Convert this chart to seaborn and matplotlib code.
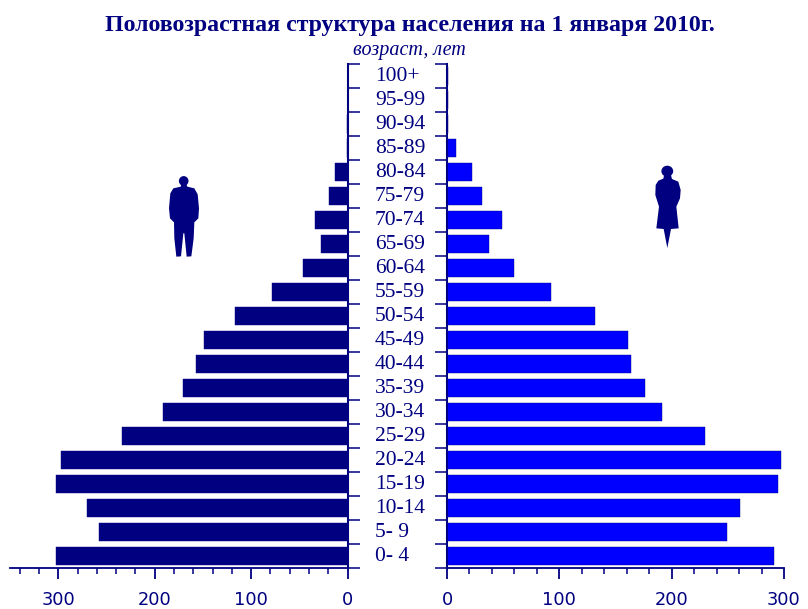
import matplotlib
matplotlib.use("Agg")
import matplotlib.pyplot as plt
from matplotlib.patches import Ellipse, Polygon
from matplotlib.ticker import MultipleLocator
from matplotlib.transforms import blended_transform_factory
import pandas as pd
import seaborn as sns

# Age groups, top of the pyramid first
ages = ["100+", "95-99", "90-94", "85-89", "80-84", "75-79", "70-74",
        "65-69", "60-64", "55-59", "50-54", "45-49", "40-44", "35-39",
        "30-34", "25-29", "20-24", "15-19", "10-14", "5- 9", "0- 4"]
men = [0, 0, 1, 0.5, 13, 19, 34, 28, 46, 78, 117, 149, 157, 171,
       191, 234, 297, 302, 270, 258, 302]
women = [1, 0.5, 0.5, 8, 22, 31, 49, 37, 60, 93, 132, 161, 164, 176,
         191, 230, 297, 295, 261, 249, 291]

NAVY = "#000080"
BLUE = "#0000ff"
W, H = 808, 609

df = pd.DataFrame({"age": ages, "men": men, "women": women})

sns.set_theme(style="white")
plt.rcParams["font.family"] = ["Liberation Serif", "DejaVu Serif"]

fig = plt.figure(figsize=(W / 100, H / 100), dpi=100, facecolor="white")


def add_axes_px(x0, x1):
    return fig.add_axes([x0 / W, 1 - 568.2 / H, (x1 - x0) / W, 504 / H])


ax_l = add_axes_px(10, 347.5)
ax_r = add_axes_px(447, 784)

sns.barplot(data=df, y="age", x="men", order=ages, orient="h", color=NAVY,
            saturation=1, width=0.74, edgecolor=NAVY, linewidth=0.3, ax=ax_l)
sns.barplot(data=df, y="age", x="women", order=ages, orient="h", color=BLUE,
            saturation=1, width=0.74, edgecolor=NAVY, linewidth=0.3, ax=ax_r)

ax_l.set_xlim(350, 0)
ax_r.set_xlim(0, 300)

for ax in (ax_l, ax_r):
    ax.set_facecolor("none")
    ax.set_xlabel("")
    ax.set_ylabel("")
    ax.set_ylim(20.5, -0.5)
    ax.set_yticks([i - 0.5 for i in range(22)])
    ax.set_yticklabels([])
    ax.xaxis.set_major_locator(MultipleLocator(100))
    ax.xaxis.set_minor_locator(MultipleLocator(20))
    ax.tick_params(axis="y", which="major", direction="out", length=8.5,
                   width=1.1, color=NAVY, left=False, right=False)
    ax.tick_params(axis="x", which="major", direction="out", length=8,
                   width=1.3, color=NAVY, bottom=True, pad=8.5)
    ax.tick_params(axis="x", which="minor", direction="out", length=4,
                   width=1.1, color=NAVY, bottom=True)
    for s in ax.spines.values():
        s.set_visible(False)
    ax.spines["bottom"].set_visible(True)
    ax.spines["bottom"].set_color(NAVY)
    ax.spines["bottom"].set_linewidth(1.3)
    for lab in ax.get_xticklabels():
        lab.set_family("DejaVu Sans")
        lab.set_fontsize(12.8)
        lab.set_color(NAVY)

# left axis has its spine and ticks on the right
ax_l.spines["right"].set_visible(True)
ax_l.spines["right"].set_color(NAVY)
ax_l.spines["right"].set_linewidth(1.5)
ax_l.yaxis.tick_right()
ax_l.tick_params(axis="y", which="major", right=True, left=False, labelright=False)

ax_r.spines["left"].set_visible(True)
ax_r.spines["left"].set_color(NAVY)
ax_r.spines["left"].set_linewidth(1.5)
ax_r.tick_params(axis="y", which="major", left=True, right=False, labelleft=False)

# Age labels between the two halves
trans = blended_transform_factory(fig.transFigure, ax_l.transData)
for i, label in enumerate(ages):
    fig.text(375 / W, i, label, transform=trans, ha="left", va="center",
             fontsize=15.5, color=NAVY)

fig.text(410 / W, 1 - 25.5 / H, "Половозрастная структура населения на 1 января 2010г.",
         ha="center", va="center", fontsize=17.2, fontweight="bold", color=NAVY)
fig.text(409.5 / W, 1 - 50 / H, "возраст, лет", ha="center", va="center",
         fontsize=14.5, fontstyle="italic", color=NAVY)

# Silhouettes, drawn in pixel coordinates on an overlay
ov = fig.add_axes([0, 0, 1, 1])
ov.set_xlim(0, W)
ov.set_ylim(H, 0)
ov.axis("off")

man_body = [(95, 55), (108, 55), (112, 65), (133, 70), (143, 88), (147, 130),
            (145, 160), (133, 172), (131, 220), (124, 274), (110, 275),
            (103, 205), (100, 205), (93, 274), (79, 275), (73, 220), (72, 172),
            (60, 160), (57, 130), (61, 85), (70, 70), (92, 65)]
woman_body = [(73, 42), (92, 42), (96, 57), (115, 65), (122, 90), (120, 115),
              (109, 140), (116, 205), (93, 207), (82, 264), (71, 207), (49, 205),
              (57, 140), (46, 105), (47, 75), (55, 62), (70, 56)]

ov.add_patch(Polygon([(150 + x / 3, 165 + y / 3) for x, y in man_body],
                     closed=True, color=NAVY, lw=0))
ov.add_patch(Ellipse((183.7, 181), 9.6, 9.8, color=NAVY, lw=0))
ov.add_patch(Polygon([(640 + x / 3, 160 + y / 3) for x, y in woman_body],
                     closed=True, color=NAVY, lw=0))
ov.add_patch(Ellipse((667.3, 171.2), 11.8, 11, color=NAVY, lw=0))

fig.savefig("out.png", dpi=100)
